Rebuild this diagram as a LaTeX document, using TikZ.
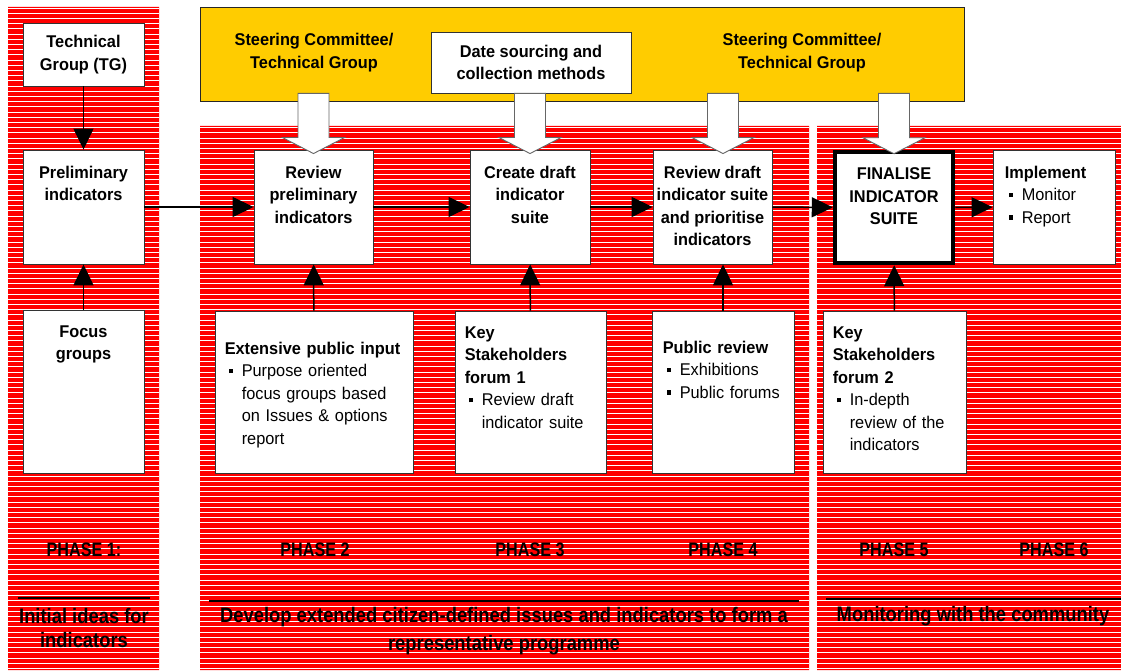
\documentclass[tikz,border=0pt]{standalone}
\usepackage{fontspec}
\setmainfont[FakeStretch=0.96]{Liberation Sans}
\newfontfamily\narrowfont[FakeStretch=0.83]{Liberation Sans}
\newfontfamily\goalfont[FakeStretch=0.875]{Liberation Sans}
\usetikzlibrary{positioning,arrows.meta,calc}
\definecolor{panelred}{RGB}{255,0,0}
\definecolor{steeryellow}{RGB}{255,204,0}
\newcommand{\sqbul}{\hspace*{4pt}\makebox[13pt][l]{\raisebox{3.5pt}{\rule{4.5pt}{4.5pt}}}}
\newcommand{\bitem}[1]{\par\noindent\sqbul\parbox[t]{170pt}{\raggedright #1}}
\newcommand{\bigArrow}[2]{\draw[blockarrow] let \p1=(#2), \p2=(#1) in
  (\x1,\y1-4pt) -- (\x1+31pt,\y1+12pt) -- (\x1+15.5pt,\y1+12pt) -- (\x1+15.5pt,\y2)
  -- (\x1-15.5pt,\y2) -- (\x1-15.5pt,\y1+12pt) -- (\x1-31pt,\y1+12pt) -- cycle}
\tikzset{
  box/.style={draw=black!80, fill=white, line width=0.9pt, inner sep=0pt},
  boxtext/.style={inner sep=0pt, align=center, font=\fontsize{17}{22.5}\selectfont\bfseries},
  listtext/.style={inner sep=0pt, text width=200pt, align=left, font=\fontsize{17}{22.5}\selectfont},
  flow/.style={-{Triangle[length=21pt,width=20pt]}, line width=1.5pt},
  blockarrow/.style={draw=black!60, fill=white, line width=0.9pt},
  phasetext/.style={inner sep=0pt, align=center, font=\narrowfont\fontsize{19.5}{23}\selectfont\bfseries},
  goaltext/.style={inner sep=0pt, align=center, font=\goalfont\fontsize{21}{28}\selectfont\bfseries},
}
\begin{document}
\begin{tikzpicture}[x=1pt, y=-1pt]
\useasboundingbox (0,0) rectangle (1121,671);
% striped panels
\fill[panelred] (8,7) rectangle (159,670) (200,126) rectangle (809,670) (817,126) rectangle (1121,670);
\begin{scope}
  \clip (8,7) rectangle (159,670) (200,126) rectangle (809,670) (817,126) rectangle (1121,670);
  \foreach \yy in {8,13.2,...,670}
    \draw[white, line width=0.8pt] (0,\yy) -- (1121,\yy);
\end{scope}
% phases
\node[phasetext] (ph1) at (84,550) {PHASE 1:};
\node[phasetext] (ph2) at (315,550) {PHASE 2};
\node[phasetext] (ph3) at (530,550) {PHASE 3};
\node[phasetext] (ph4) at (723,550) {PHASE 4};
\node[phasetext] (ph5) at (894,550) {PHASE 5};
\node[phasetext] (ph6) at (1054,550) {PHASE 6};
\draw[line width=2pt] (18,598) -- (150,598);
\draw[line width=2pt] (209,601) -- (799,601);
\draw[line width=2pt] (826,599) -- (1121,599);
\node[goaltext, font=\goalfont\fontsize{21}{23.5}\selectfont\bfseries] (goal1) at (84,628) {Initial ideas for\\indicators};
\node[goaltext] (goal2) at (504,631) {Develop extended citizen-defined issues and indicators to form a\\representative programme};
\node[goaltext] (goal3) at (973,616) {Monitoring with the community};
% steering committee
\node[box, draw=black!85, fill=steeryellow, minimum width=764pt, minimum height=94pt] (steer) at (582,54) {};
\node[boxtext] (steerA) at (314,52.5) {Steering Committee/\\Technical Group};
\node[boxtext] (steerB) at (802,52.5) {Steering Committee/\\Technical Group};
\coordinate (steerbase) at ($(steer.south)+(0,-8)$);
% boxes
\node[box, minimum width=121pt, minimum height=63pt] (tg) at (83.5,54.5) {};
\node[box, minimum width=121pt, minimum height=114pt] (prelim) at (83.5,207) {};
\node[box, minimum width=121pt, minimum height=163pt] (focus) at (83.5,391.5) {};
\node[box, minimum width=119pt, minimum height=114pt] (revprelim) at (313.5,207) {};
\node[box, minimum width=120pt, minimum height=114pt] (draft) at (530,207) {};
\node[box, minimum width=119pt, minimum height=114pt] (revdraft) at (712.5,207) {};
\node[box, draw=black, line width=4.5pt, minimum width=118pt, minimum height=111pt] (final) at (894,207.5) {};
\node[box, minimum width=122pt, minimum height=114pt] (impl) at (1054,207) {};
\node[box, minimum width=198pt, minimum height=162pt] (pubinput) at (314,392) {};
\node[box, minimum width=151pt, minimum height=162pt] (forumA) at (530.5,392) {};
\node[box, minimum width=142pt, minimum height=162pt] (pubrev) at (723,392) {};
\node[box, minimum width=143pt, minimum height=162pt] (forumB) at (894.5,392) {};
\node[box, minimum width=200pt, minimum height=61pt] (datasrc) at (531,62.5) {};
% box texts
\node[boxtext] at (tg) {Technical\\Group (TG)};
\node[boxtext, below=16pt of prelim.north] {Preliminary\\indicators};
\node[boxtext, below=16pt of focus.north] {Focus\\groups};
\node[boxtext, below=16pt of revprelim.north] {Review\\preliminary\\indicators};
\node[boxtext, below=16pt of draft.north] {Create draft\\indicator\\suite};
\node[boxtext, below=16pt of revdraft.north] {Review draft\\indicator suite\\and prioritise\\indicators};
\node[boxtext, below=18pt of final.north] {FINALISE\\INDICATOR\\SUITE};
\node[boxtext, align=center] at (datasrc) {Date sourcing and\\collection methods};
\node[listtext, below right=16pt and 12pt of impl.north west] {\textbf{Implement}
  \bitem{Monitor}\bitem{Report}};
\node[listtext, below right=31pt and 10pt of pubinput.north west] {\textbf{Extensive public input}
  \bitem{Purpose oriented\\focus groups based\\on Issues \& options\\report}};
\node[listtext, below right=16pt and 10pt of forumA.north west] {\textbf{Key\\Stakeholders\\forum 1}
  \bitem{Review draft\\indicator suite}};
\node[listtext, below right=30pt and 11pt of pubrev.north west] {\textbf{Public review}
  \bitem{Exhibitions}\bitem{Public forums}};
\node[listtext, below right=16pt and 10pt of forumB.north west] {\textbf{Key\\Stakeholders\\forum 2}
  \bitem{In-depth\\review of the\\indicators}};
% input arrows from the top
\coordinate (revdraftin) at (pubrev.north |- revdraft.north);
\bigArrow{steerbase}{revprelim.north};
\bigArrow{datasrc.south}{draft.north};
\bigArrow{steerbase}{revdraftin};
\bigArrow{steerbase}{final.north};
% flow
\draw[flow] (tg) -- (prelim);
\draw[flow] (focus) -- (prelim);
\draw[flow] (prelim) -- (revprelim);
\draw[flow] (revprelim) -- (draft);
\draw[flow] (draft) -- (revdraft);
\draw[flow] (revdraft) -- (final);
\draw[flow] (final) -- (impl);
\draw[flow] (pubinput) -- (revprelim);
\draw[flow] (forumA) -- (draft);
\draw[flow] (pubrev.north) -- (revdraftin |- revdraft.south);
\draw[flow] (forumB) -- (final);
\end{tikzpicture}
\end{document}
